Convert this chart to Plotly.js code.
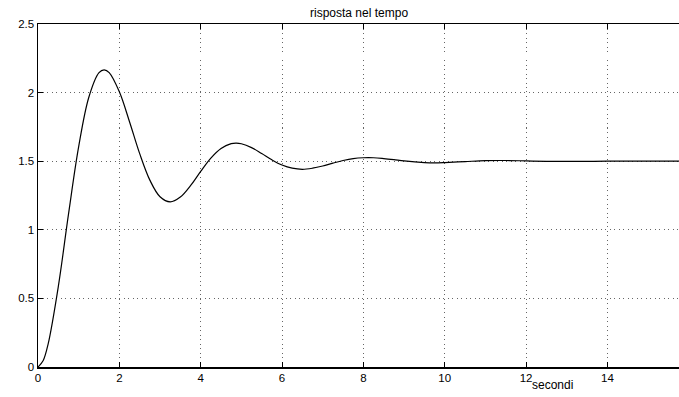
<!DOCTYPE html>
<html>
<head>
<meta charset="utf-8">
<script src="https://cdn.plot.ly/plotly-3.0.1.min.js"></script>
<style>html,body{margin:0;padding:0;background:#fff;}#plot{width:679px;height:397px;}</style>
</head>
<body>
<div id="plot"></div>
<script>
const tempo = [0, 0.125, 0.25, 0.5, 0.75, 1.0, 1.25, 1.5, 1.625, 1.75, 2.0, 2.25, 2.5, 2.75, 3.0, 3.25, 3.5, 3.75, 4.0, 4.25, 4.5, 4.75, 4.875, 5.0, 5.25, 5.5, 5.75, 6.0, 6.25, 6.5, 6.75, 7.0, 7.25, 7.5, 7.75, 8.0, 8.25, 8.5, 8.75, 9.0, 9.5, 9.75, 10.0, 10.5, 11.0, 11.5, 12.0, 12.5, 13.0, 13.5, 14.0, 14.5, 15.0, 15.76];
const risposta = [0, 0.045, 0.169, 0.588, 1.114, 1.606, 1.966, 2.145, 2.166, 2.146, 2.006, 1.788, 1.555, 1.362, 1.241, 1.204, 1.239, 1.322, 1.426, 1.523, 1.593, 1.628, 1.632, 1.627, 1.599, 1.556, 1.510, 1.472, 1.449, 1.441, 1.449, 1.465, 1.486, 1.505, 1.519, 1.525, 1.525, 1.519, 1.511, 1.502, 1.490, 1.488, 1.490, 1.497, 1.504, 1.505, 1.502, 1.499, 1.498, 1.499, 1.500, 1.500, 1.500, 1.500];
const xTicks = [0, 2, 4, 6, 8, 10, 12, 14];
const yTicks = [0, 0.5, 1, 1.5, 2, 2.5];
const yTickText = ['0', '0.5', '1', '1.5', '2', '2.5'];

const font = {family: 'Liberation Sans, Arial, Helvetica, sans-serif', size: 11.5, color: '#000'};
const tfont = {family: 'Liberation Sans, Arial, Helvetica, sans-serif', size: 12, color: '#000'};

const trace = {
  x: tempo, y: risposta, type: 'scatter', mode: 'lines',
  line: {color: '#000', width: 1.2, shape: 'spline', smoothing: 1},
  hoverinfo: 'skip'
};

const layout = {
  width: 679, height: 397,
  margin: {l: 38, r: 0, t: 24, b: 30, pad: 0},
  paper_bgcolor: '#fff', plot_bgcolor: '#fff',
  showlegend: false,
  font: font,
  xaxis: {
    range: [0, 15.76], tickvals: xTicks, ticktext: xTicks.map(String),
    ticks: 'inside', ticklen: 5, tickwidth: 1, tickcolor: '#000',
    showline: true, linecolor: '#000', linewidth: 1.5, mirror: 'ticks',
    showgrid: true, gridcolor: '#666', gridwidth: 1, griddash: '1px,3.5px',
    zeroline: false, tickfont: font
  },
  yaxis: {
    range: [0, 2.5], tickvals: yTicks, ticktext: yTickText,
    ticks: 'inside', ticklen: 5, tickwidth: 1, tickcolor: '#000',
    showline: true, linecolor: '#000', linewidth: 1.5,
    showgrid: true, gridcolor: '#666', gridwidth: 1, griddash: '1px,3.5px',
    zeroline: false, tickfont: font
  },
  annotations: [
    {text: 'risposta nel tempo', xref: 'paper', yref: 'paper', x: 0.5, y: 1, yshift: 11,
     xanchor: 'center', yanchor: 'middle', showarrow: false, font: tfont},
    {text: 'secondi', xref: 'paper', yref: 'paper', x: (552 - 38) / 641, y: 0, yshift: -18,
     xanchor: 'center', yanchor: 'middle', showarrow: false, font: tfont}
  ]
};

Plotly.newPlot('plot', [trace], layout, {staticPlot: true, displayModeBar: false});
</script>
</body>
</html>
